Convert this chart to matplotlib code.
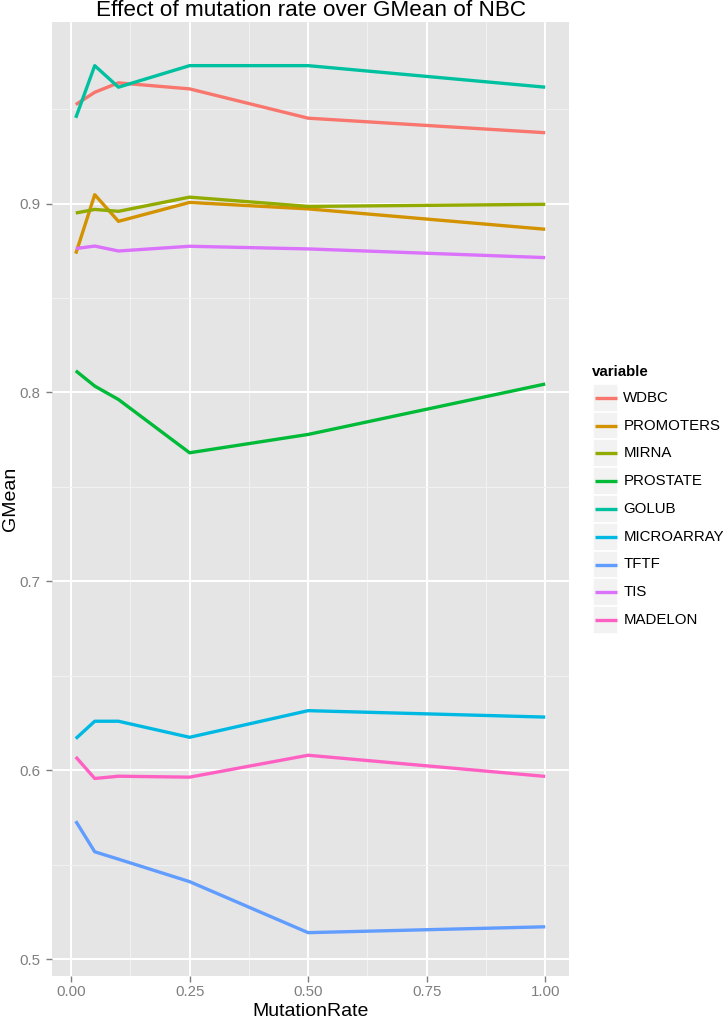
import matplotlib
matplotlib.use("Agg")
import matplotlib.pyplot as plt
from matplotlib.patches import Rectangle

plt.rcParams['font.family'] = ['Liberation Sans', 'DejaVu Sans']

rates = [0.01, 0.05, 0.1, 0.25, 0.5, 1.0]
categories = ["WDBC", "PROMOTERS", "MIRNA", "PROSTATE", "GOLUB",
              "MICROARRAY", "TFTF", "TIS", "MADELON"]
wdbc       = [0.9524, 0.9589, 0.9639, 0.9607, 0.9452, 0.9375]
promoters  = [0.8735, 0.9047, 0.8906, 0.9006, 0.8972, 0.8864]
mirna      = [0.8950, 0.8969, 0.8959, 0.9034, 0.8985, 0.8996]
prostate   = [0.8115, 0.8034, 0.7963, 0.7681, 0.7778, 0.8045]
golub      = [0.9454, 0.9730, 0.9616, 0.9730, 0.9730, 0.9616]
microarray = [0.6168, 0.6260, 0.6260, 0.6175, 0.6316, 0.6282]
tftf       = [0.5731, 0.5569, 0.5530, 0.5411, 0.5141, 0.5172]
tis        = [0.8762, 0.8775, 0.8749, 0.8774, 0.8760, 0.8714]
madelon    = [0.6071, 0.5957, 0.5969, 0.5964, 0.6080, 0.5968]
series = [wdbc, promoters, mirna, prostate, golub, microarray, tftf, tis, madelon]
colors = ["#F8766D", "#D39200", "#93AA00", "#00BA38", "#00C19F",
          "#00B9E3", "#619CFF", "#DB72FB", "#FF61C3"]

W, H = 728, 1019
fig = plt.figure(figsize=(W / 100, H / 100), dpi=100)
fig.patch.set_facecolor("white")

L, R, T, B = 52.3, 568.7, 22.3, 976.0
ax = fig.add_axes([L / W, 1 - B / H, (R - L) / W, (B - T) / H])
ax.set_facecolor("#E5E5E5")
for s in ax.spines.values():
    s.set_visible(False)

ax.set_xlim(-0.0395, 1.0495)
ymin = min(min(s) for s in series)
ymax = max(max(s) for s in series)
pad = (ymax - ymin) * 0.05
ax.set_ylim(ymin - pad, ymax + pad)

ax.set_xticks([0, 0.25, 0.5, 0.75, 1.0])
ax.set_xticklabels(["0.00", "0.25", "0.50", "0.75", "1.00"])
ax.set_yticks([0.5, 0.6, 0.7, 0.8, 0.9])
ax.set_yticklabels(["0.5", "0.6", "0.7", "0.8", "0.9"])
ax.set_xticks([0.125, 0.375, 0.625, 0.875], minor=True)
ax.set_yticks([0.55, 0.65, 0.75, 0.85, 0.95], minor=True)
ax.grid(which="major", color="white", lw=1.4)
ax.grid(which="minor", color="#F2F2F2", lw=0.7)
ax.set_axisbelow(True)
ax.tick_params(which="major", length=4.3, width=1.0, color="#7F7F7F",
               labelcolor="#7F7F7F", labelsize=10.8)
ax.tick_params(axis="x", which="major", pad=2.5)
ax.tick_params(axis="y", which="major", pad=4.5)
ax.tick_params(which="minor", length=0)

for name, vals, c in zip(categories, series, colors):
    ax.plot(rates, vals, color=c, lw=2.4, solid_capstyle="butt", label=name)

fig.text((L + R) / 2 / W, 1 - 11 / H, "Effect of mutation rate over GMean of NBC",
         ha="center", va="center", fontsize=16.2)
fig.text((L + R) / 2 / W, 1 - 1015.5 / H, "MutationRate", ha="center",
         va="baseline", fontsize=14)
fig.text(11 / W, 1 - (T + B) / 2 / H, "GMean", ha="center", va="center",
         rotation=90, fontsize=14)

# legend drawn in figure pixel space
lax = fig.add_axes([0, 0, 1, 1])
lax.set_xlim(0, W)
lax.set_ylim(H, 0)
lax.axis("off")
lax.patch.set_alpha(0)
lax.text(592, 371.7, "variable", ha="left", va="center", fontsize=10.8,
         fontweight="bold")
row_h = 27.8
y0 = 397.7
for i, (name, c) in enumerate(zip(categories, colors)):
    yc = y0 + i * row_h
    lax.add_patch(Rectangle((592.7, yc - row_h / 2), 25.6, row_h,
                            facecolor="#F2F2F2", edgecolor="white", lw=1.2))
    lax.plot([594.5, 616.5], [yc, yc], color=c, lw=2.4, solid_capstyle="butt")
    lax.text(623.3, yc, name, ha="left", va="center", fontsize=10.8)

fig.savefig("out.png", dpi=100)
